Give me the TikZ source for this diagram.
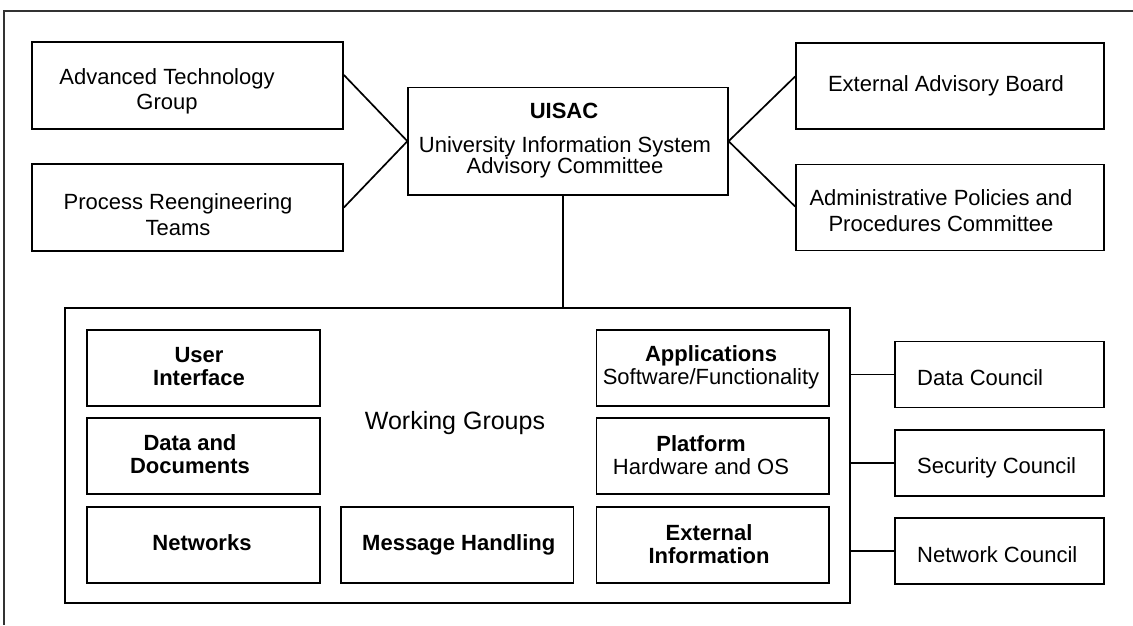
\documentclass[tikz,border=0pt]{standalone}
\usepackage{fontspec}
\setmainfont{Liberation Sans}
\usetikzlibrary{calc}
\begin{document}
\begin{tikzpicture}[x=1pt,y=-1pt,
  box/.style={draw=black,line width=1.8pt,inner sep=0pt,rectangle},
  txt/.style={align=center,inner sep=0pt,font=\fontsize{22}{23}\selectfont},
  btxt/.style={txt,font=\fontsize{22}{23}\selectfont\bfseries},
  link/.style={line width=1.7pt}]
\useasboundingbox (0,0) rectangle (1133,625);

% frame
\draw[line width=1.3pt,black!80] (1133,11) -- (4,11) -- (4,625);

% top level
\node[box,minimum width=311,minimum height=87] (atg) at (187.5,85.5) {};
\node[txt,font=\fontsize{22}{24.7}\selectfont] (atgt) at (167,91) {Advanced Technology\\Group};
\node[box,minimum width=311,minimum height=87] (prt) at (187.5,207.5) {};
\node[txt,font=\fontsize{22}{25.7}\selectfont] (prtt) at (178,214.5) {Process Reengineering\\Teams};

\node[box,minimum width=319.4,minimum height=107.5] (uisac) at (568,141.2) {};
\node[btxt,anchor=base] (uisact) at (564,118.3) {UISAC};
\node[txt,font=\fontsize{22}{20.5}\selectfont] (uisacd) at (565,157.5) {University Information System\\Advisory Committee};

\node[box,minimum width=308,minimum height=86] (eab) at (950,86) {};
\node[txt,anchor=base] (eabt) at (946,91.7) {External Advisory Board};
\node[box,minimum width=308,minimum height=86] (appc) at (950,207.5) {};
\node[txt,font=\fontsize{22}{26}\selectfont] (appct) at (941,210.5) {Administrative Policies and\\Procedures Committee};

\draw[link] ([yshift=10.5pt]atg.east) -- (uisac.west) -- (prt.east);
\draw[link] ([yshift=9.5pt]eab.west) -- (uisac.east) -- ([yshift=1pt]appc.west);

% working groups
\node[box,minimum width=784.5,minimum height=295.6] (wg) at (457.5,455.5) {};
\node[txt,font=\fontsize{25}{28}\selectfont,anchor=base] (wgt) at (455,429.3) {Working Groups};
\draw[link] ([xshift=-5pt]uisac.south) coordinate (drop) -- (drop |- wg.north);

\node[box,minimum width=232.3,minimum height=75.7] (ui) at (203.5,367.8) {};
\node[btxt] (uit) at (199,366.5) {User\\Interface};
\node[box,minimum width=232.3,minimum height=75.7] (dd) at (203.5,456.2) {};
\node[btxt] (ddt) at (190,454.5) {Data and\\Documents};
\node[box,minimum width=232.3,minimum height=76] (nw) at (203.5,544.7) {};
\node[btxt,anchor=base] (nwt) at (202,550) {Networks};
\node[box,minimum width=232.4,minimum height=76] (mh) at (457.2,544.7) {};
\node[btxt,anchor=base] (mht) at (458.8,550) {Message Handling};

\node[box,minimum width=232.5,minimum height=75.7] (app) at (712.8,367.8) {};
\node[txt] (appt) at (711,367.5) {\textbf{Applications}\\Software/Functionality};
\node[box,minimum width=232.5,minimum height=75.7] (plat) at (712.8,456.2) {};
\node[txt] (platt) at (701,455.5) {\textbf{Platform}\\Hardware and OS};
\node[box,minimum width=232.5,minimum height=76] (ext) at (712.8,544.7) {};
\node[btxt] (extt) at (709,544) {External\\Information};

% councils
\node[box,minimum width=209,minimum height=66] (dc) at (999.5,374.5) {};
\node[txt,anchor=base west] (dct) at (917,385) {Data Council};
\node[box,minimum width=209,minimum height=66] (sc) at (999.5,462.7) {};
\node[txt,anchor=base west] (sct) at (917,473.7) {Security Council};
\node[box,minimum width=209,minimum height=66] (nc) at (999.5,551.3) {};
\node[txt,anchor=base west] (nct) at (917,562.3) {Network Council};

\draw[link] (wg.east |- dc.west) -- (dc.west);
\draw[link] (wg.east |- sc.west) -- (sc.west);
\draw[link] (wg.east |- nc.west) -- (nc.west);
\end{tikzpicture}
\end{document}
